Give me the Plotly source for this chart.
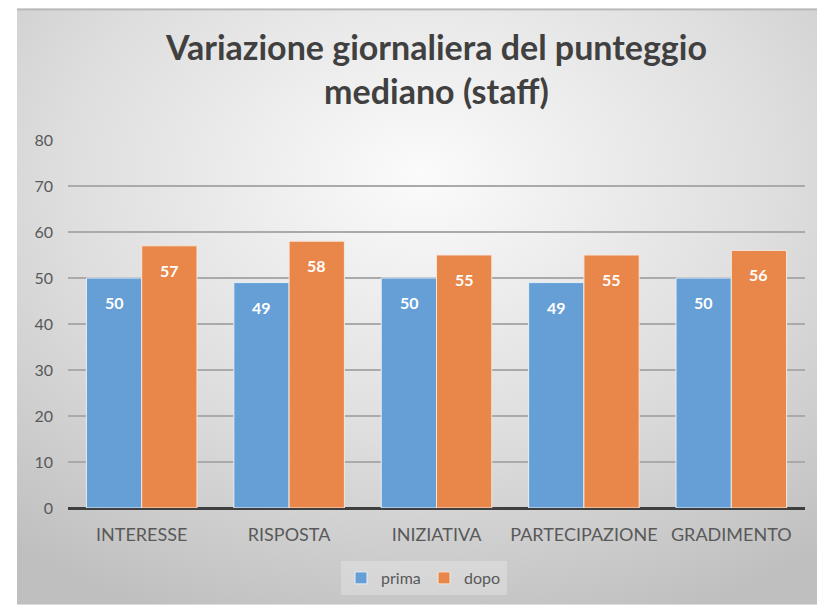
import base64
import plotly.graph_objects as go

categories = ["INTERESSE", "RISPOSTA", "INIZIATIVA", "PARTECIPAZIONE", "GRADIMENTO"]
prima = [50, 49, 50, 49, 50]
dopo = [57, 58, 55, 55, 56]

# the page body adds an 8px margin, so the figure is laid out 8px smaller / shifted
OFF = 8
W, H = 825 - OFF, 606 - OFF
# plot area in screen pixels (from the reference)
L, R, T, B = 68 - OFF, 805 - OFF, 140 - OFF, 509 - OFF
pw, ph = R - L, B - T


def px_x(x):
    return (x - OFF - L) / pw


def px_y(y):
    return (B - (y - OFF)) / ph


# radial grey background like the Excel chart area
svg = """<svg xmlns='http://www.w3.org/2000/svg' width='808' height='601' preserveAspectRatio='none'>
<defs><radialGradient id='g' cx='50%' cy='28%' r='80%'>
<stop offset='0%' stop-color='#fbfbfb'/><stop offset='55%' stop-color='#dedede'/><stop offset='100%' stop-color='#bfbfbf'/>
</radialGradient></defs>
<rect width='808' height='601' fill='url(#g)'/>
<rect x='0' y='0' width='808' height='2' fill='#b8b8b8'/>
</svg>"""
bg_src = "data:image/svg+xml;base64," + base64.b64encode(svg.encode()).decode()

font_family = "Lato, 'Open Sans', sans-serif"
blue, orange = "#659fd6", "#e9874a"

fig = go.Figure()
fig.add_trace(go.Bar(
    x=categories, y=prima, name="prima",
    marker=dict(color=blue, line=dict(color="#e8eef5", width=1)),
))
fig.add_trace(go.Bar(
    x=categories, y=dopo, name="dopo",
    marker=dict(color=orange, line=dict(color="#f5e6dc", width=1)),
))

# value labels inside the top of each bar (Excel "inside end")
labels = []
for series, shift in ((prima, -27.5), (dopo, 27.5)):
    for cat, val in zip(categories, series):
        labels.append(dict(
            x=cat, y=val, xref="x", yref="y", text=str(val), showarrow=False,
            xshift=shift, yshift=-13, yanchor="top",
            font=dict(color="white", size=16, family=font_family, weight="bold"),
        ))

fig.update_layout(
    width=W, height=H,
    margin=dict(l=L, r=W - R, t=T, b=H - B),
    paper_bgcolor="white",
    plot_bgcolor="rgba(0,0,0,0)",
    barmode="group", bargap=0.25, bargroupgap=0,
    font=dict(family=font_family, color="#595959", size=15),
    title=dict(
        text="Variazione giornaliera del punteggio<br>mediano (staff)",
        x=0.5, xref="paper", xanchor="center",
        y=1 - (60 - OFF) / H, yanchor="middle",
        font=dict(family=font_family, size=34, color="#404040", weight="bold"),
    ),
    xaxis=dict(
        showline=False, ticks="", tickfont=dict(size=18, color="#595959"),
        ticklabelstandoff=14, automargin=False,
    ),
    yaxis=dict(
        range=[0, 80], dtick=10, showline=False, ticks="",
        gridcolor="#aaaaaa", gridwidth=1.5,
        zeroline=True, zerolinecolor="#3f3f3f", zerolinewidth=3,
        tickfont=dict(size=16, color="#595959"), ticklabelstandoff=14,
        automargin=False,
    ),
    legend=dict(
        orientation="h", x=px_x(424), xanchor="center",
        y=px_y(578), yanchor="middle",
        bgcolor="rgba(255,255,255,0.25)",
        font=dict(size=16, color="#595959"),
        itemwidth=30, entrywidth=38, entrywidthmode="pixels",
        traceorder="normal",
    ),
    annotations=labels,
    images=[dict(
        source=bg_src, xref="paper", yref="paper",
        x=px_x(17), y=px_y(OFF), sizex=px_x(825) - px_x(17), sizey=px_y(OFF) - px_y(606),
        xanchor="left", yanchor="top", sizing="stretch", layer="below",
    )],
)

fig.write_html("out.html")
